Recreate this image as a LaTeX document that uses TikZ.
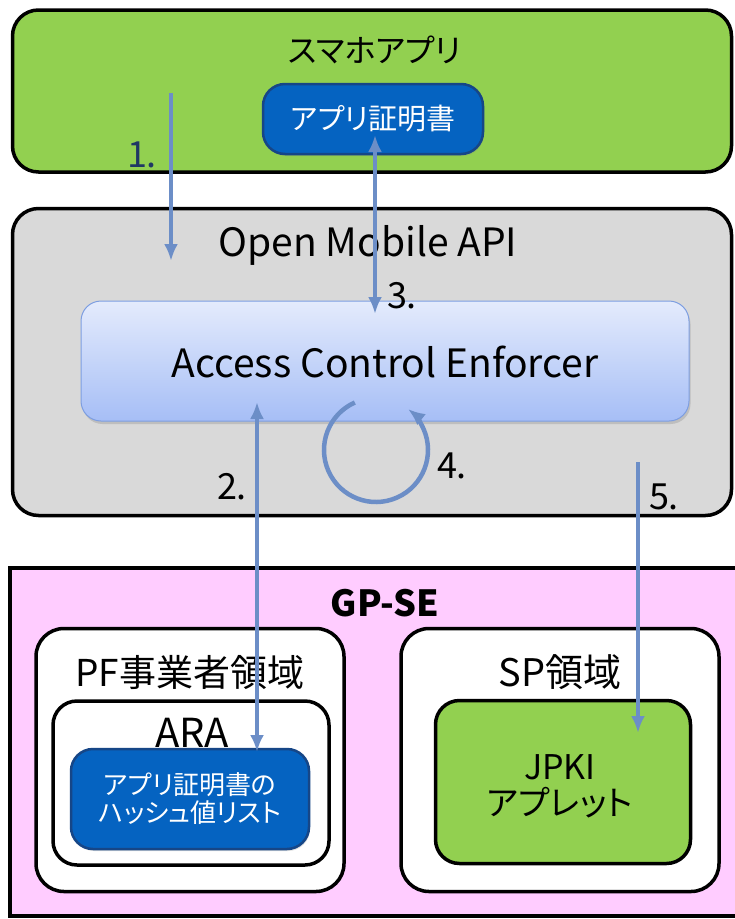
\documentclass[tikz,border=0pt]{standalone}
\usepackage{fontspec}
\setmainfont{Noto Sans CJK JP}[RawFeature=+palt]
\usetikzlibrary{arrows.meta,shadows}
\definecolor{appgreen}{RGB}{146,208,80}
\definecolor{apigray}{RGB}{217,217,217}
\definecolor{sepink}{RGB}{255,204,255}
\definecolor{certblue}{RGB}{5,99,193}
\definecolor{certedge}{RGB}{22,70,135}
\definecolor{flow}{RGB}{108,142,199}
\definecolor{acetop}{RGB}{228,235,252}
\definecolor{acebot}{RGB}{166,190,246}
\definecolor{aceedge}{RGB}{125,158,225}
\definecolor{navy}{RGB}{31,56,100}
\begin{document}
\begin{tikzpicture}[x=1pt,y=1pt,
  bigbox/.style={draw=black, line width=3.5pt, rounded corners=26pt, inner sep=0pt},
  areabox/.style={draw=black, line width=3.5pt, fill=white, rounded corners=28pt, inner sep=0pt},
  certbox/.style={draw=certedge, line width=2.5pt, fill=certblue, rounded corners=22pt, inner sep=0pt,
     drop shadow={opacity=0.25, shadow xshift=1pt, shadow yshift=-2pt}},
  acebox/.style={draw=aceedge, line width=1pt, rounded corners=20pt, top color=acetop, bottom color=acebot,
     inner sep=0pt, drop shadow={opacity=0.3, shadow xshift=1.5pt, shadow yshift=-3pt}},
  lbl/.style={font=\fontsize{#1}{#1}\selectfont, inner sep=0pt, anchor=center},
  wlbl/.style={font=\fontsize{#1}{#1}\selectfont, inner sep=0pt, anchor=center, text=white, align=center},
  num/.style={font=\fontsize{36}{36}\selectfont, inner sep=0pt, anchor=center},
  flowline/.style={draw=flow, line width=4.5pt, -{Latex[length=17pt,width=14pt]}},
  flowboth/.style={draw=flow, line width=4.5pt, {Latex[length=17pt,width=14pt]}-{Latex[length=17pt,width=14pt]}}
]
\useasboundingbox (0,0) rectangle (735,-919);
\clip (0,0) rectangle (735,-919);

% top: smartphone app
\node[bigbox, fill=appgreen, minimum width=719pt, minimum height=162pt] (app) at (372,-91) {};
\node[lbl=32] (appt) at (375,-50) {スマホアプリ};
\node[certbox, minimum width=220pt, minimum height=70pt] (cert) at (373,-119) {};
\node[wlbl=29] (certt) at (373,-119) {アプリ証明書};

% Open Mobile API
\node[bigbox, fill=apigray, minimum width=719pt, minimum height=307pt] (api) at (372,-362) {};
\node[lbl=39] (apit) at (368,-245) {Open Mobile API};
\node[acebox, minimum width=608pt, minimum height=120pt] (ace) at (385,-361) {};
\node[lbl=39] (acet) at (385,-362) {Access Control Enforcer};

% GP-SE
\node[draw=black, line width=3.5pt, fill=sepink, minimum width=740pt, minimum height=348pt, inner sep=0pt] (se) at (380,-742) {};
\node[lbl=30, font=\fontsize{36}{36}\selectfont\bfseries] (set) at (385,-603) {GP-SE};

\node[areabox, minimum width=308pt, minimum height=263pt] (pf) at (190,-760) {};
\node[lbl=37] (pft) at (190,-672) {PF事業者領域};
\node[areabox, rounded corners=24pt, minimum width=276pt, minimum height=164pt] (ara) at (191,-783) {};
\node[lbl=40] (arat) at (192,-733) {ARA};
\node[certbox, minimum width=238pt, minimum height=100pt] (hash) at (190,-799) {};
\node[wlbl=26] (hasht) at (190,-799) {アプリ証明書の\\[2pt]ハッシュ値リスト};

\node[areabox, minimum width=318pt, minimum height=263pt] (sp) at (560,-760) {};
\node[lbl=38] (spt) at (560,-672) {SP領域};
\node[areabox, fill=appgreen, rounded corners=24pt, minimum width=255pt, minimum height=163pt] (jpki) at (563,-782) {};
\node[lbl=34, align=center] (jpkit) at (560,-786) {JPKI\\[2pt]アプレット};

% connectors
\coordinate (a1s) at (171,-93);
\coordinate (a1e) at (171,-261);
\coordinate (a3s) at (375,-135);
\coordinate (a3e) at (375,-314);
\coordinate (a2s) at (257,-402);
\coordinate (a2e) at (257,-752);
\coordinate (a5s) at (638,-462);
\coordinate (a5e) at (638,-733);
\coordinate (c4) at (376,-450);

\draw[flowline] (a1s) -- (a1e);
\draw[flowboth] (a3s) -- (a3e);
\draw[flowboth] (a2s) -- (a2e);
\draw[flowline] (a5s) -- (a5e);
\draw[flowline] ([shift={(114:52)}]c4) arc[start angle=114, end angle=412, radius=52];

% step numbers
\node[num, text=navy] (n1) at (142,-155) {1.};
\node[num] (n2) at (232,-487) {2.};
\node[num] (n3) at (402,-296) {3.};
\node[num] (n4) at (452,-466) {4.};
\node[num] (n5) at (664,-497) {5.};
\end{tikzpicture}
\end{document}
